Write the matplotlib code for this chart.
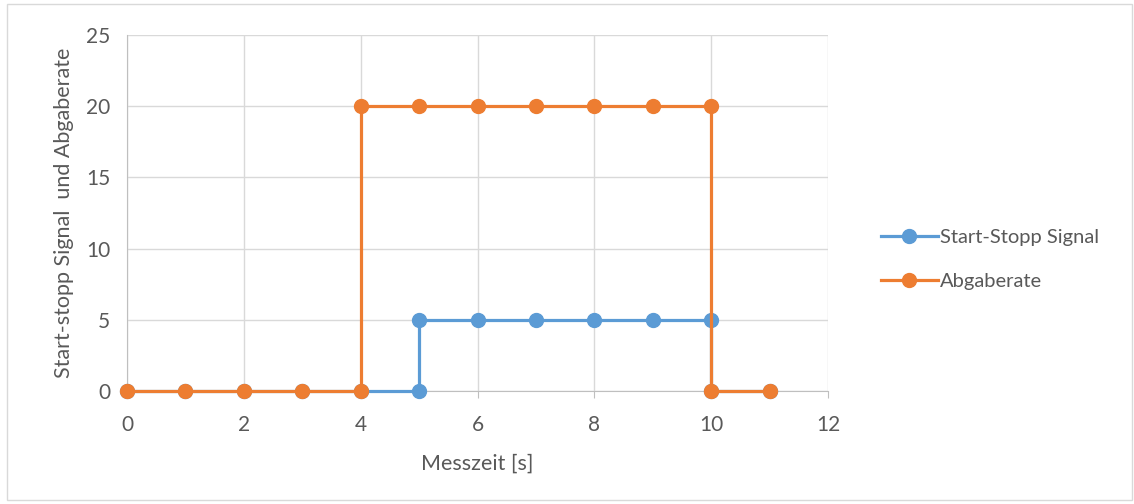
import matplotlib.pyplot as plt
from matplotlib.patches import Rectangle

# measurement data
zeit_signal = [0, 1, 2, 3, 4, 5, 5, 6, 7, 8, 9, 10, 10, 11]
signal = [0, 0, 0, 0, 0, 0, 5, 5, 5, 5, 5, 5, 0, 0]

zeit_rate = [0, 1, 2, 3, 4, 4, 5, 6, 7, 8, 9, 10, 10, 11]
rate = [0, 0, 0, 0, 0, 20, 20, 20, 20, 20, 20, 20, 0, 0]

x_ticks = [0, 2, 4, 6, 8, 10, 12]
y_ticks = [0, 5, 10, 15, 20, 25]

grau = '#595959'
plt.rcParams['font.family'] = ['Lato', 'DejaVu Sans']

fig = plt.figure(figsize=(11.34, 5.04), dpi=100)
ax = fig.add_axes([127/1134, 1-391/504, (828-127)/1134, (391-35)/504])

ax.plot(zeit_signal, signal, color='#5B9BD5', lw=2.3, marker='o', markersize=10,
        label='Start-Stopp Signal', zorder=3, clip_on=False)
ax.plot(zeit_rate, rate, color='#ED7D31', lw=2.3, marker='o', markersize=10,
        label='Abgaberate', zorder=4, clip_on=False)

ax.set_xlim(0, 12)
ax.set_ylim(0, 25)
ax.set_xticks(x_ticks)
ax.set_yticks(y_ticks)
ax.grid(True, color='#d9d9d9', lw=1)
ax.set_axisbelow(True)
for s in ['top', 'right']:
    ax.spines[s].set_visible(False)
for s in ['left', 'bottom']:
    ax.spines[s].set_color('#bfbfbf')
ax.tick_params(colors=grau, labelsize=15, length=5, color='#bfbfbf')
ax.tick_params(axis='y', length=0, pad=12)
ax.tick_params(axis='x', pad=12)
for lab in ax.get_xticklabels() + ax.get_yticklabels():
    lab.set_color(grau)

ax.set_xlabel('Messzeit [s]', fontsize=15.5, color=grau, labelpad=14)
ax.set_ylabel('Start-stopp Signal  und Abgaberate', fontsize=15.5, color=grau, labelpad=9)

ax.legend(loc='center left', bbox_to_anchor=(1.05, 0.37), frameon=False,
          fontsize=14.5, labelcolor=grau, handlelength=2.8, handletextpad=0.1,
          labelspacing=1.35)

# chart border
fig.patches.append(Rectangle((7/1134, 4/504), 1125/1134, 496/504, transform=fig.transFigure,
                             fill=False, edgecolor='#d9d9d9', lw=1))

fig.savefig('out.png', dpi=100)
